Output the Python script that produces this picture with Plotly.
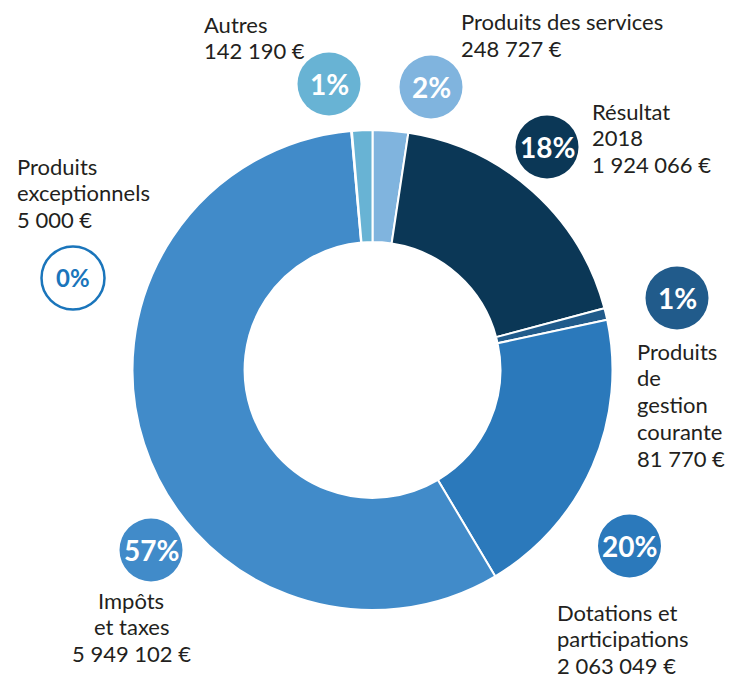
import plotly.graph_objects as go

# ---- data ----
categories = ["Produits des services", "Résultat 2018", "Produits de gestion courante",
              "Dotations et participations", "Impôts et taxes", "Produits exceptionnels", "Autres"]
values = [248727, 1924066, 81770, 2063049, 5949102, 5000, 142190]
colors = ["#80b4de", "#0b3756", "#215b8b", "#2b79bb", "#418bc9", "#1a75bb", "#68b3d4"]
label_lines = [["Produits des services"], ["Résultat", "2018"], ["Produits", "de", "gestion", "courante"],
               ["Dotations et", "participations"], ["Impôts", "et taxes"], ["Produits", "exceptionnels"], ["Autres"]]

# page pixels (the browser body has an 8px margin)
PAGE_W, PAGE_H, OFF = 733, 682, 8
W, H = PAGE_W - OFF, PAGE_H - OFF
CX, CY, R = 372.5, 370, 240

# layout positions (page pixels): label x, first-line centre y, alignment; bubble centre & radius
label_pos = [(460, 21.5, "left"), (591, 111, "left"), (636, 351, "left"),
             (556, 612, "left"), (131, 600, "center"), (16, 166, "left"), (203, 24, "left")]
LINE_SP = 26.8
bubble_pos = [(431, 87, 31.5), (547, 147, 31.5), (677, 298, 31.5),
              (629.5, 546, 31.5), (151, 550, 31.5), (73, 278, 31.5), (329, 84, 31.5)]

total = sum(values)
pcts = [round(v / total * 100) for v in values]

def fmt(v):
    return f"{v:,}".replace(",", " ") + " €"

def px(x):
    return (x - OFF) / W

def py(y):
    return 1 - (y - OFF) / H

fig = go.Figure(go.Pie(
    labels=categories, values=values, hole=0.533, sort=False, direction="clockwise", rotation=0,
    marker=dict(colors=colors, line=dict(color="white", width=2)),
    textinfo="none", hoverinfo="label+value+percent", showlegend=False,
    domain=dict(x=[px(CX - R), px(CX + R)], y=[py(CY + R), py(CY - R)]),
))

FONT = "Lato"
for i, cat in enumerate(categories):
    lx, ly, al = label_pos[i]
    lines = label_lines[i] + [fmt(values[i])]
    for k, line in enumerate(lines):
        fig.add_annotation(x=px(lx), y=py(ly + k * LINE_SP), xref="paper", yref="paper",
                           xanchor=al, yanchor="middle", align=al, text=line, showarrow=False,
                           borderpad=0, font=dict(family=FONT, size=22, color="#231f20"))
    bx, by, r = bubble_pos[i]
    outline = cat == "Produits exceptionnels"
    fig.add_shape(type="circle", xref="paper", yref="paper",
                  x0=px(bx - r), x1=px(bx + r), y0=py(by + r), y1=py(by - r),
                  fillcolor="white" if outline else colors[i],
                  line=dict(color=colors[i], width=2.5 if outline else 0))
    fig.add_annotation(x=px(bx), y=py(by), xref="paper", yref="paper", xanchor="center", yanchor="middle",
                       text=f"<b>{pcts[i]}%</b>", showarrow=False, borderpad=0,
                       font=dict(family=FONT, size=24 if outline else 28,
                                 color=colors[i] if outline else "white"))

fig.update_layout(width=W, height=H, margin=dict(l=0, r=0, t=0, b=0),
                  paper_bgcolor="white", plot_bgcolor="white")
fig.write_html("out.html")
